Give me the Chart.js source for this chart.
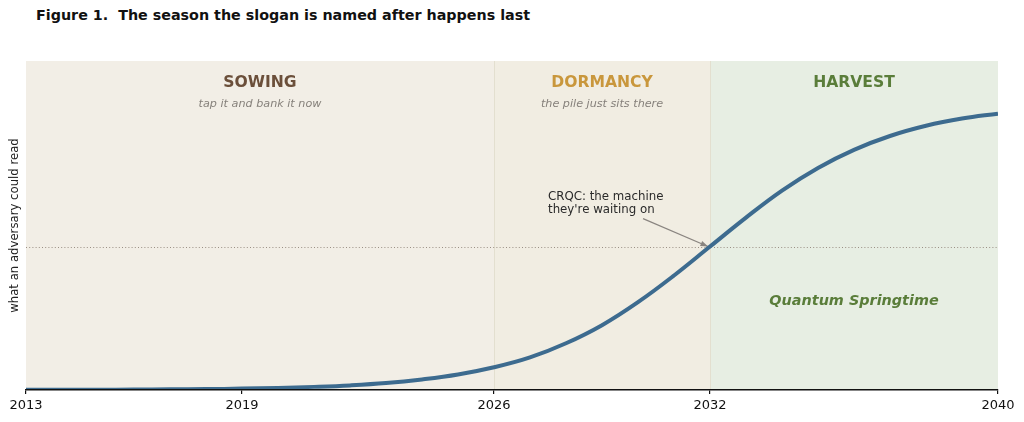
<!DOCTYPE html>
<html><head><meta charset="utf-8">
<script src="https://cdn.jsdelivr.net/npm/chart.js@4.4.1/dist/chart.umd.min.js"></script>
<style>
html,body{margin:0;padding:0;background:#fff;}
#wrap{position:relative;width:1024px;height:422px;}
#title{position:absolute;left:36px;top:7px;font:bold 14.3px "DejaVu Sans",sans-serif;color:#111;white-space:pre;}
canvas{position:absolute;left:0;top:0;}
</style></head>
<body>
<div id="wrap"><div id="title">Figure 1.  The season the slogan is named after happens last</div><canvas id="c" width="1024" height="422"></canvas></div>
<script>
const years = [2013,2014,2015,2016,2017,2018,2019,2020,2021,2022,2023,2024,2025,2026,2027,2028,2029,2030,2031,2032,2033,2034,2035,2036,2037,2038,2039,2040];
const exposure = [0.04,0.05,0.08,0.12,0.19,0.28,0.42,0.63,0.95,1.4,2.1,3.2,4.7,6.9,9.9,14.2,19.7,26.7,34.8,43.6,52.4,60.6,67.5,73.0,77.2,80.3,82.5,84.0];
const tickYears = [2013,2019,2026,2032,2040];
const seasonNames = ["SOWING","DORMANCY","HARVEST"];
const seasonSubtitles = ["tap it and bank it now","the pile just sits there",""];
const seasonStarts = [2013,2026,2032];
const seasonEnds = [2026,2032,2040];
const crqcYear = 2032;
const crqcLevel = 43.6;
const annotationLines = ["CRQC: the machine","they're waiting on"];
const yAxisLabel = "what an adversary could read";
const springLabel = "Quantum Springtime";

const bandFill = ["#f2eee6","#f1ede2","#e7eee3"];
const nameColor = ["#6b4f3a","#c9973c","#5a7d3a"];

const decor = {
  id:'decor',
  beforeDatasetsDraw(chart){
    const {ctx, chartArea:a, scales:{x,y}} = chart;
    ctx.save();
    for(let i=0;i<seasonStarts.length;i++){
      const x0=x.getPixelForValue(seasonStarts[i]), x1=x.getPixelForValue(seasonEnds[i]);
      ctx.fillStyle=bandFill[i];
      ctx.fillRect(x0,a.top,x1-x0,a.bottom-a.top);
    }
    ctx.strokeStyle='#e3dfcf';ctx.lineWidth=1;
    [seasonStarts[1],seasonStarts[2]].forEach(v=>{
      const px=Math.round(x.getPixelForValue(v))+0.5;
      ctx.beginPath();ctx.moveTo(px,a.top);ctx.lineTo(px,a.bottom);ctx.stroke();
    });
    const ty=Math.round(y.getPixelForValue(crqcLevel))+0.5;
    ctx.strokeStyle='#9a8f84';ctx.setLineDash([1,2.2]);ctx.lineWidth=1;
    ctx.beginPath();ctx.moveTo(a.left,ty);ctx.lineTo(a.right,ty);ctx.stroke();
    ctx.setLineDash([]);
    ctx.textAlign='center';ctx.textBaseline='middle';
    for(let i=0;i<seasonNames.length;i++){
      const cx=(x.getPixelForValue(seasonStarts[i])+x.getPixelForValue(seasonEnds[i]))/2;
      ctx.fillStyle=nameColor[i];ctx.font='bold 15.6px "DejaVu Sans"';
      ctx.fillText(seasonNames[i],cx,a.top+22);
      if(seasonSubtitles[i]){
        ctx.fillStyle='#86817b';ctx.font='italic 11.2px "DejaVu Sans"';
        ctx.fillText(seasonSubtitles[i],cx,a.top+43);
      }
    }
    ctx.fillStyle='#5a7d3a';ctx.font='bold italic 14.4px "DejaVu Sans"';
    ctx.fillText(springLabel,x.getPixelForValue(2036),y.getPixelForValue(27.0));
    ctx.fillStyle='#2a2a2a';ctx.font='11.8px "DejaVu Sans"';ctx.textAlign='left';
    const tx=x.getPixelForValue(2027.5);
    annotationLines.forEach((s,k)=>ctx.fillText(s,tx,y.getPixelForValue(58.8)+k*13));
    const px=x.getPixelForValue(crqcYear)-2, py=y.getPixelForValue(crqcLevel);
    const sx=x.getPixelForValue(2030.14), sy=y.getPixelForValue(52.1);
    ctx.strokeStyle='#8a8580';ctx.fillStyle='#8a8580';ctx.lineWidth=1.2;
    ctx.beginPath();ctx.moveTo(sx,sy);ctx.lineTo(px,py);ctx.stroke();
    const ang=Math.atan2(py-sy,px-sx);
    ctx.beginPath();ctx.moveTo(px,py);
    ctx.lineTo(px-8*Math.cos(ang-0.35),py-8*Math.sin(ang-0.35));
    ctx.lineTo(px-8*Math.cos(ang+0.35),py-8*Math.sin(ang+0.35));
    ctx.closePath();ctx.fill();
    ctx.save();ctx.translate(15,(a.top+a.bottom)/2);ctx.rotate(-Math.PI/2);
    ctx.textAlign='center';ctx.fillStyle='#222';ctx.font='11.7px "DejaVu Sans"';
    ctx.fillText(yAxisLabel,0,0);ctx.restore();
    ctx.restore();
  }
};

new Chart(document.getElementById('c'),{
  type:'line',
  data:{datasets:[{data:years.map((yr,i)=>({x:yr,y:exposure[i]})),borderColor:'#3d6b8f',borderWidth:4,pointRadius:0,tension:0.4,fill:false}]},
  options:{
    responsive:false,animation:false,
    layout:{padding:{top:61,right:26,left:0,bottom:0}},
    plugins:{legend:{display:false},tooltip:{enabled:false}},
    scales:{
      x:{type:'linear',min:2013,max:2040,
        afterBuildTicks(s){s.ticks=tickYears.map(v=>({value:v}));},
        afterFit(s){s.height=32;},
        grid:{drawOnChartArea:false,drawTicks:true,tickLength:4,color:'#111',lineWidth:1.2},
        border:{display:true,color:'#111',width:1.5,z:1},
        ticks:{color:'#111',font:{family:'DejaVu Sans',size:13},padding:4,maxRotation:0,callback:v=>String(v)}},
      y:{min:0,max:100,
        afterFit(s){s.width=26;},
        grid:{display:false},border:{display:false},ticks:{display:false}}
    }
  },
  plugins:[decor]
});
</script>
</body></html>
